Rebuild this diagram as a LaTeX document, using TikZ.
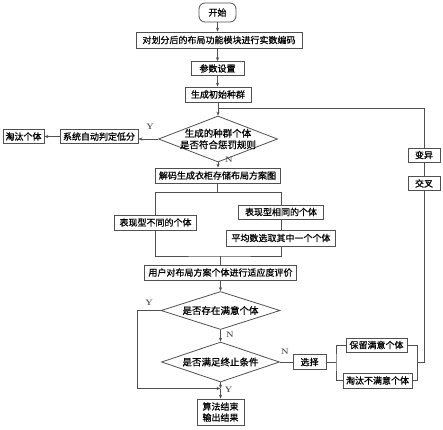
\documentclass[tikz,border=0pt]{standalone}
\usepackage{fontspec}
\newfontfamily\cjk[FakeBold=0.8]{Noto Sans CJK SC}
\usetikzlibrary{shapes.geometric,arrows.meta}
\definecolor{ln}{RGB}{80,80,80}
\begin{document}
\begin{tikzpicture}[x=1pt,y=-1pt,
 box/.style={draw=ln,line width=0.8pt,inner sep=0pt,font=\cjk\fontsize{9}{11}\selectfont,align=center},
 dia/.style={draw=ln,line width=0.8pt,diamond,inner sep=0pt},
 lab/.style={font=\cjk\fontsize{9.5}{11.5}\selectfont,align=center},
 arr/.style={draw=ln,line width=0.7pt,-{Stealth[length=4pt,width=3.2pt]}},
 wire/.style={draw=ln,line width=0.7pt},
 yn/.style={font=\fontsize{8}{8}\selectfont\bfseries,text=ln,inner sep=0pt}]
\useasboundingbox (0,0) rectangle (443,429);
% main column
\node[box,rounded corners=6pt,minimum width=37pt,minimum height=19pt] (start) at (217.5,12.5) {开始};
\node[box,minimum width=166pt,minimum height=16pt] (b1) at (219,40) {对划分后的布局功能模块进行实数编码};
\node[box,minimum width=53pt,minimum height=14pt] (b2) at (217.5,68.5) {参数设置};
\node[box,minimum width=66pt,minimum height=15pt] (b3) at (218,94.5) {生成初始种群};
\node[dia,minimum width=119pt,minimum height=46pt,label={[lab]center:{生成的种群个体\\是否符合惩罚规则}}] (d1) at (218,139) {};
\node[box,minimum width=78pt,minimum height=14pt] (low) at (99,136.5) {系统自动判定低分};
\node[box,minimum width=41pt,minimum height=14pt] (out) at (23.5,136.5) {淘汰个体};
\node[box,minimum width=125pt,minimum height=15pt] (dec) at (217.5,175.5) {解码生成衣柜存储布局方案图};
\node[box,minimum width=82pt,minimum height=15pt] (diff) at (155.5,222.5) {表现型不同的个体};
\node[box,minimum width=85pt,minimum height=14pt] (same) at (281,212) {表现型相同的个体};
\node[box,minimum width=109pt,minimum height=16pt] (avg) at (281,238) {平均数选取其中一个个体};
\node[box,minimum width=152pt,minimum height=15pt] (user) at (220.5,272.5) {用户对布局方案个体进行适应度评价};
\node[dia,minimum width=119pt,minimum height=38pt,label={[lab]center:{是否存在满意个体}}] (d2) at (220.5,310.5) {};
\node[dia,minimum width=118pt,minimum height=40pt,label={[lab]center:{是否满足终止条件}}] (d3) at (220.5,362) {};
\node[box,minimum width=47pt,minimum height=26pt] (end) at (220.5,412) {算法结束\\输出结果};
% right part
\node[box,minimum width=33pt,minimum height=15pt] (sel) at (309.5,362) {选择};
\node[box,minimum width=61pt,minimum height=14pt] (keep) at (376.5,345) {保留满意个体};
\node[box,minimum width=69pt,minimum height=15pt] (elim) at (377.5,380.5) {淘汰不满意个体};
\node[box,minimum width=32pt,minimum height=14pt] (by) at (424,155) {变异};
\node[box,minimum width=32pt,minimum height=14pt] (jc) at (424,183.5) {交叉};
% coordinates
\coordinate (sp) at (217.5,192.5);
\coordinate (mg) at (220.5,256);
\coordinate (j) at (220.5,388.5);
\coordinate (sl) at (336,362);
\coordinate (sr) at (417,362);
\coordinate (lp) at (424,362);
\coordinate (tp) at (424,108);
\coordinate (tl) at (218,108);
% connectors
\draw[arr] (start.south) -- (start.south |- b1.north);
\draw[arr] (b2.north |- b1.south) -- (b2.north);
\draw[arr] (b2.south) -- (b2.south |- b3.north);
\draw[arr] (b3.south -| d1.north) -- (d1.north);
\draw[arr] (d1.west) -- (d1.west -| low.east);
\draw[arr] (low.west) -- (low.west -| out.east);
\draw[arr] (d1.south) -- (d1.south |- dec.north);
\draw[wire] (dec.south) -- (sp);
\draw[wire] (diff.north) |- (sp) -| (same.north);
\draw[wire] (same.south) -- (avg.north);
\draw[wire] (diff.south) |- (mg) -| (avg.south);
\draw[wire] (mg) -- (user.north);
\draw[arr] (user.south) -- (d2.north);
\draw[arr] (d2.south) -- (d3.north);
\draw[arr] (d2.west) -- ++(-23,0) |- (j);
\draw[arr] (d3.south) -- (j);
\draw[arr] (j) -- (end.north);
\draw[wire] (d3.east) -- (sel.west);
\draw[wire] (sel.east) -- (sl);
\draw[wire] (keep.west) -| (sl) |- (elim.west);
\draw[wire] (keep.east) -| (sr) |- (elim.east);
\draw[wire] (sr) -- (lp) -- (jc.south);
\draw[wire] (jc.north) -- (by.south);
\draw[wire] (by.north) -- (tp) -- (tl);
% labels
\node[yn] (y1) at (150,127) {Y};
\node[yn] (n1) at (229,160) {N};
\node[yn] (y2) at (149,303) {Y};
\node[yn] (n2) at (230,335) {N};
\node[yn] (n3) at (285,352) {N};
\node[yn] (y3) at (228.5,389.5) {Y};
\end{tikzpicture}
\end{document}
